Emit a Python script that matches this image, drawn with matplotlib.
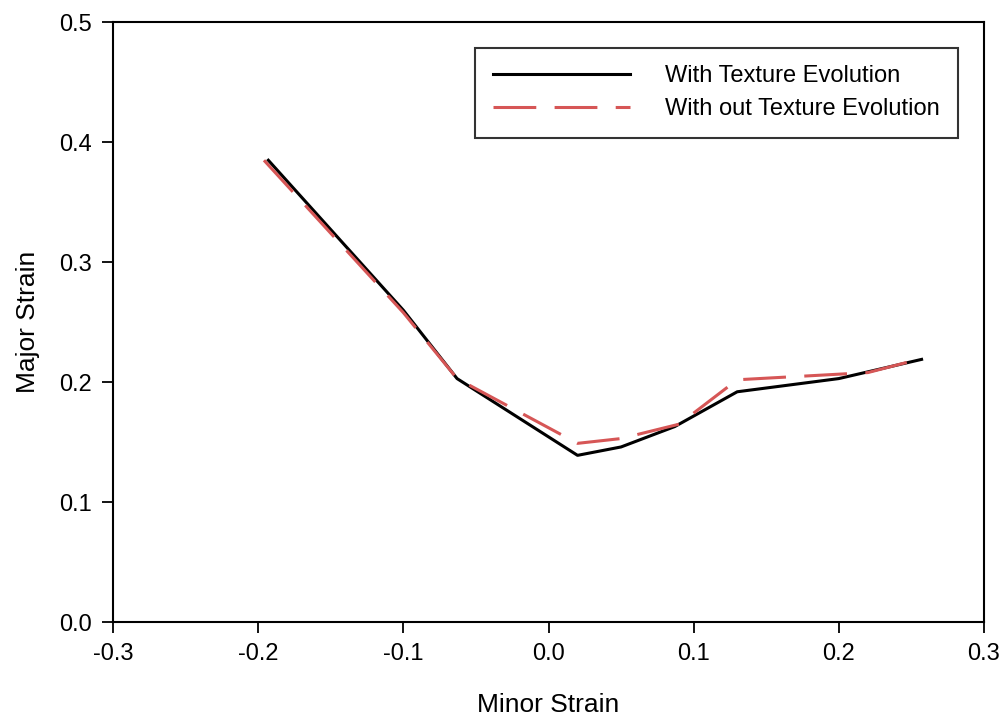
import matplotlib.pyplot as plt

plt.rcParams['font.family'] = ['Liberation Sans', 'DejaVu Sans']

# minor / major strain
x_with = [-0.193, -0.100, -0.063, 0.020, 0.050, 0.087, 0.130, 0.200, 0.257]
y_with = [0.385, 0.260, 0.203, 0.139, 0.146, 0.163, 0.192, 0.203, 0.219]

x_without = [-0.196, -0.100, -0.063, 0.020, 0.050, 0.090, 0.130, 0.220, 0.258]
y_without = [0.385, 0.258, 0.203, 0.149, 0.153, 0.165, 0.202, 0.208, 0.220]

xticks = [-0.3, -0.2, -0.1, 0.0, 0.1, 0.2, 0.3]
yticks = [0.0, 0.1, 0.2, 0.3, 0.4, 0.5]

fig = plt.figure(figsize=(10, 7.2), dpi=100)
ax = fig.add_axes([0.113, 0.136, 0.871, 0.833])

ax.plot(x_with, y_with, color='black', lw=2.2, label='With Texture Evolution')
ax.plot(x_without, y_without, color='#d65656', lw=2.2, dashes=(14, 6),
        label='With out Texture Evolution')

ax.set_xlim(-0.3, 0.3)
ax.set_ylim(0, 0.5)
ax.set_xticks(xticks)
ax.set_yticks(yticks)
ax.set_xticklabels([f'{t:.1f}' for t in xticks])
ax.set_yticklabels([f'{t:.1f}' for t in yticks])
ax.tick_params(direction='out', length=8, width=1.3, labelsize=17, pad=7)
for s in ax.spines.values():
    s.set_linewidth(1.5)

ax.set_xlabel('Minor Strain', fontsize=19, labelpad=20)
ax.set_ylabel('Major Strain', fontsize=19, labelpad=14)

leg = ax.legend(loc='upper right', bbox_to_anchor=(0.970, 0.958), fontsize=17,
                handlelength=5.8, handletextpad=1.5, fancybox=False,
                edgecolor='black', borderpad=0.75, labelspacing=0.45,
                borderaxespad=0)
leg.get_frame().set_linewidth(1.5)

fig.savefig('out.png', dpi=100)
